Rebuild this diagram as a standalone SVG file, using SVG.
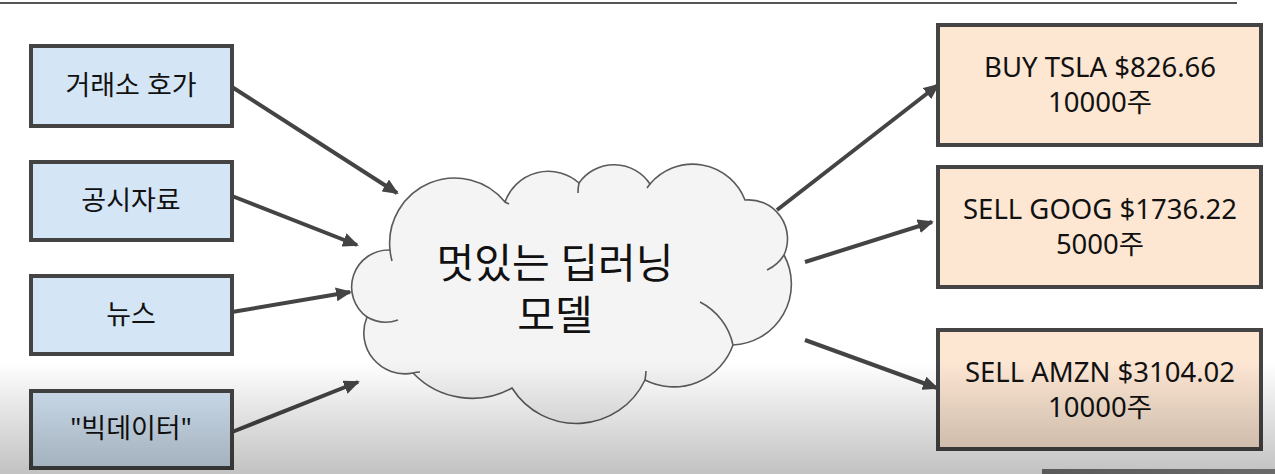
<svg xmlns="http://www.w3.org/2000/svg" width="1275" height="474" viewBox="0 0 1275 474">
<defs>
<style>
.src rect{fill:#d4e5f5;stroke:#444;stroke-width:4}
.dst rect{fill:#fde6d2;stroke:#444;stroke-width:4}
.t{font-family:"Noto Sans","Noto Sans CJK KR",sans-serif;fill:#111;text-anchor:middle}
.st{font-size:27px}
.dt{font-size:27.5px}
.ct{font-size:41px}
.conn line{stroke:#444;stroke-width:4;marker-end:url(#ah)}
.cloud{fill:#f4f4f4;stroke:#5a5a5a;stroke-width:1.6}
.hook{fill:none;stroke:#5a5a5a;stroke-width:1.6}
</style>
<marker id="ah" markerUnits="userSpaceOnUse" markerWidth="16" markerHeight="14" refX="14" refY="7" orient="auto">
<path d="M0,0 L16,7 L0,14 z" fill="#444"/>
</marker>
<linearGradient id="shade" x1="0" y1="0" x2="0" y2="1">
<stop offset="0" stop-color="#000" stop-opacity="0"/>
<stop offset="1" stop-color="#000" stop-opacity="0.24"/>
</linearGradient>
<linearGradient id="bar" x1="0" y1="0" x2="1" y2="0">
<stop offset="0" stop-color="#5a5a5a"/>
<stop offset="1" stop-color="#6a6a6a"/>
</linearGradient>
</defs>
<rect x="0" y="0" width="1275" height="474" fill="#fff"/>
<line x1="0" y1="3" x2="1237" y2="3" stroke="#555" stroke-width="2"/>

<g id="connectors" class="conn">
<line x1="232" y1="87" x2="397" y2="193"/>
<line x1="232" y1="196" x2="357" y2="245"/>
<line x1="232" y1="312" x2="350" y2="292"/>
<line x1="232" y1="432" x2="358" y2="382"/>
<line x1="777" y1="210" x2="938" y2="85"/>
<line x1="805" y1="262" x2="932" y2="222"/>
<line x1="805" y1="340" x2="937" y2="388"/>
</g>

<g id="model">
<path class="cloud" d="M390,250 A65,65 0 0 1 505,202 A46,46 0 0 1 579,183 A43,43 0 0 1 650,184 A56,56 0 0 1 745,200 A39,39 0 0 1 784,255 A61,61 0 0 1 733,345 A63,63 0 0 1 645,380 A76,76 0 0 1 512,388 A82,82 0 0 1 413,373 A41,41 0 0 1 367,317 A37,37 0 0 1 390,250 Z"/>
<path class="hook" d="M390,250 A65,65 0 0 0 392,261"/>
<path class="hook" d="M505,202 A65,65 0 0 1 509,204"/>
<path class="hook" d="M579,183 A43,43 0 0 0 578,193"/>
<path class="hook" d="M650,184 A56,56 0 0 0 647,188"/>
<path class="hook" d="M784,255 A39,39 0 0 1 767,270"/>
<path class="hook" d="M733,345 A63,63 0 0 0 700,302"/>
<path class="hook" d="M645,380 A76,76 0 0 0 646,371"/>
<path class="hook" d="M413,373 A41,41 0 0 1 420,372"/>
<path class="hook" d="M367,317 A37,37 0 0 0 398,320"/>
<text class="t ct" x="555" y="278">멋있는 딥러닝</text>
<text class="t ct" x="555" y="330">모델</text>
</g>

<g id="orderbook" class="src">
<rect x="31" y="46" width="201" height="80"/>
<text class="t st" x="131" y="95">거래소 호가</text>
</g>
<g id="disclosure" class="src">
<rect x="31" y="162" width="201" height="78"/>
<text class="t st" x="131" y="210">공시자료</text>
</g>
<g id="news" class="src">
<rect x="31" y="276" width="201" height="78"/>
<text class="t st" x="131" y="324">뉴스</text>
</g>
<g id="bigdata" class="src">
<rect x="31" y="391" width="201" height="77"/>
<text class="t st" x="131" y="438">"빅데이터"</text>
</g>

<g id="buy-tsla" class="dst">
<rect x="938" y="25" width="323" height="120"/>
<text class="t dt" x="1100" y="77">BUY TSLA $826.66</text>
<text class="t dt" x="1100" y="112">10000주</text>
</g>
<g id="sell-goog" class="dst">
<rect x="938" y="167" width="323" height="120"/>
<text class="t dt" x="1100" y="219">SELL GOOG $1736.22</text>
<text class="t dt" x="1100" y="254">5000주</text>
</g>
<g id="sell-amzn" class="dst">
<rect x="938" y="330" width="323" height="119"/>
<text class="t dt" x="1100" y="382">SELL AMZN $3104.02</text>
<text class="t dt" x="1100" y="417">10000주</text>
</g>

<rect x="0" y="362" width="1275" height="112" fill="url(#shade)"/>
<rect x="1042" y="469" width="233" height="5" fill="url(#bar)"/>
</svg>
